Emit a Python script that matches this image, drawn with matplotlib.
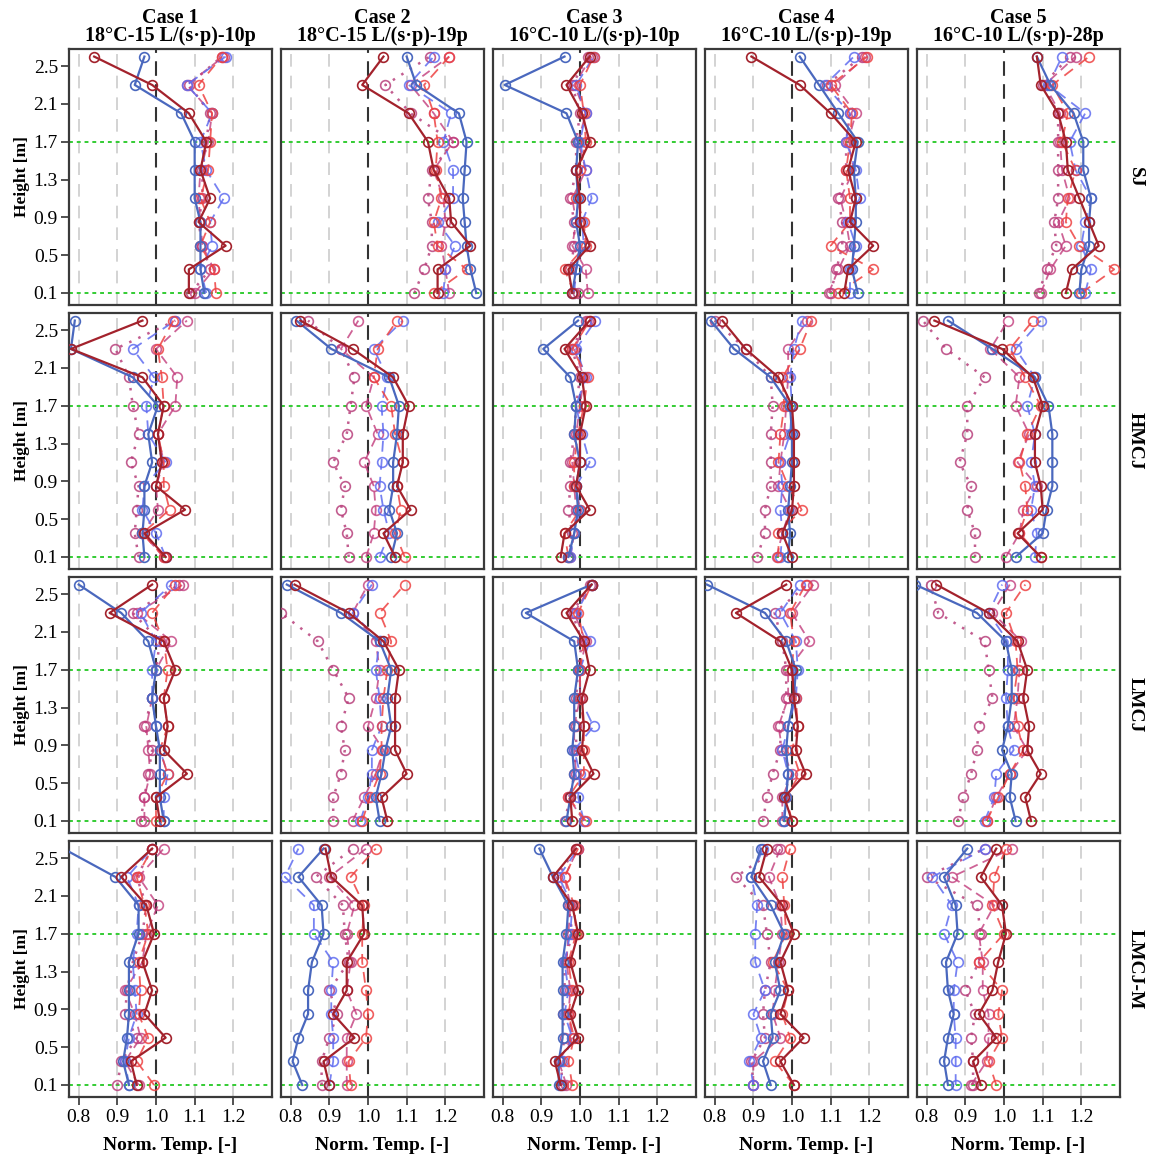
import matplotlib
matplotlib.use("Agg")
import matplotlib.pyplot as plt

plt.rcParams['font.family'] = ['Liberation Serif', 'DejaVu Serif']

# ==========================
# DATA (values listed bottom -> top, one list per case)
# ==========================
HEIGHTS = [0.1, 0.35, 0.6, 0.85, 1.1, 1.4, 1.7, 2.0, 2.3, 2.6]
CASES = ["Case 1", "Case 2", "Case 3", "Case 4", "Case 5"]
CASE_INFO = ["18°C-15 L/(s·p)-10p", "18°C-15 L/(s·p)-19p", "16°C-10 L/(s·p)-10p",
             "16°C-10 L/(s·p)-19p", "16°C-10 L/(s·p)-28p"]
ROWS = ["SJ", "HMCJ", "LMCJ", "LMCJ-M"]
YTICKS = [0.1, 0.5, 0.9, 1.3, 1.7, 2.1, 2.5]
XTICKS = [0.8, 0.9, 1.0, 1.1, 1.2]
REF_HEIGHTS = [0.1, 1.7]

# --- SJ ---
SJ_BLUE = [[1.125, 1.115, 1.115, 1.115, 1.10, 1.10, 1.10, 1.065, 0.945, 0.97],
           [1.28, 1.265, 1.255, 1.25, 1.245, 1.25, 1.255, 1.235, 1.125, 1.10],
           [0.98, 0.99, 1.0, 0.99, 0.995, 0.99, 0.995, 0.965, 0.805, 0.96],
           [1.17, 1.155, 1.16, 1.165, 1.165, 1.16, 1.17, 1.12, 1.07, 1.02],
           [1.195, 1.20, 1.22, 1.22, 1.225, 1.205, 1.205, 1.18, 1.12, 1.085]]
SJ_RED = [[1.085, 1.085, 1.18, 1.11, 1.14, 1.115, 1.13, 1.085, 0.99, 0.84],
          [1.18, 1.18, 1.265, 1.215, 1.21, 1.17, 1.155, 1.105, 0.985, 1.04],
          [0.98, 0.97, 1.025, 1.0, 1.0, 0.99, 1.025, 1.005, 0.965, 1.025],
          [1.135, 1.145, 1.21, 1.15, 1.165, 1.145, 1.165, 1.10, 1.02, 0.895],
          [1.16, 1.175, 1.245, 1.22, 1.195, 1.165, 1.16, 1.14, 1.095, 1.085]]
SJ_BLUE_D = [[1.13, 1.115, 1.145, 1.14, 1.175, 1.13, 1.115, 1.145, 1.08, 1.18],
             [1.195, 1.20, 1.225, 1.18, 1.22, 1.22, 1.195, 1.215, 1.105, 1.17],
             [0.985, 0.99, 1.01, 1.005, 1.03, 1.015, 1.0, 1.015, 0.99, 1.035],
             [1.15, 1.15, 1.165, 1.145, 1.175, 1.165, 1.14, 1.15, 1.085, 1.16],
             [1.21, 1.225, 1.20, 1.21, 1.225, 1.185, 1.17, 1.21, 1.115, 1.15]]
SJ_RED_D = [[1.155, 1.15, 1.115, 1.14, 1.115, 1.135, 1.14, 1.145, 1.11, 1.17],
            [1.17, 1.255, 1.18, 1.17, 1.19, 1.175, 1.18, 1.17, 1.145, 1.21],
            [0.985, 0.96, 1.015, 1.01, 0.99, 1.0, 1.015, 1.01, 1.0, 1.035],
            [1.12, 1.21, 1.10, 1.15, 1.15, 1.14, 1.15, 1.155, 1.10, 1.195],
            [1.20, 1.285, 1.195, 1.16, 1.165, 1.185, 1.15, 1.165, 1.125, 1.22]]
SJ_MAG_DD = [[1.10, 1.15, 1.12, 1.115, 1.11, 1.115, 1.135, 1.145, 1.08, 1.175],
             [1.21, 1.20, 1.19, 1.20, 1.195, 1.17, 1.22, 1.17, 1.11, 1.21],
             [1.02, 1.015, 0.98, 0.99, 0.98, 1.015, 0.995, 1.015, 0.985, 1.03],
             [1.095, 1.12, 1.15, 1.14, 1.125, 1.16, 1.145, 1.165, 1.11, 1.19],
             [1.095, 1.12, 1.16, 1.14, 1.17, 1.15, 1.145, 1.145, 1.105, 1.185]]
SJ_MAG_DOT = [[1.09, 1.14, 1.12, 1.11, 1.12, 1.12, 1.13, 1.14, 1.085, 1.17],
              [1.12, 1.145, 1.165, 1.165, 1.155, 1.165, 1.22, 1.11, 1.045, 1.16],
              [0.995, 0.975, 0.985, 0.985, 0.975, 0.99, 0.99, 1.0, 0.98, 1.02],
              [1.10, 1.115, 1.13, 1.13, 1.12, 1.14, 1.14, 1.15, 1.09, 1.18],
              [1.09, 1.11, 1.135, 1.13, 1.14, 1.14, 1.14, 1.14, 1.10, 1.17]]

# --- HMCJ ---
HMCJ_BLUE = [[0.97, 0.965, 0.97, 0.97, 0.99, 0.98, 1.005, 0.94, 0.78, 0.79],
             [1.06, 1.075, 1.055, 1.065, 1.065, 1.075, 1.08, 1.055, 0.905, 0.815],
             [0.97, 0.985, 0.995, 0.99, 1.0, 0.985, 0.99, 0.975, 0.905, 0.995],
             [0.99, 0.995, 0.99, 0.995, 1.0, 1.0, 0.995, 0.945, 0.85, 0.79],
             [1.03, 1.10, 1.11, 1.125, 1.125, 1.125, 1.115, 1.08, 0.97, 0.855]]
HMCJ_RED = [[1.025, 0.97, 1.075, 1.0, 1.015, 1.005, 1.02, 0.965, 0.78, 0.965],
            [1.07, 1.04, 1.11, 1.075, 1.09, 1.09, 1.105, 1.065, 0.96, 0.825],
            [0.95, 0.96, 1.025, 0.99, 1.0, 1.0, 1.015, 1.005, 0.96, 1.025],
            [1.0, 0.975, 1.0, 1.005, 1.005, 1.005, 1.0, 0.965, 0.88, 0.82],
            [1.095, 1.035, 1.10, 1.095, 1.08, 1.08, 1.10, 1.075, 0.995, 0.82]]
HMCJ_BLUE_D = [[1.025, 1.0, 0.965, 0.97, 1.025, 0.98, 0.975, 0.995, 0.94, 1.05],
               [1.03, 1.055, 1.04, 1.03, 1.035, 1.04, 1.035, 1.05, 1.015, 1.09],
               [0.975, 0.985, 1.0, 0.99, 1.025, 1.005, 0.99, 1.015, 0.99, 1.04],
               [0.97, 0.975, 0.97, 0.975, 0.97, 0.995, 1.0, 0.995, 1.005, 1.025],
               [1.08, 1.085, 1.07, 1.08, 1.07, 1.08, 1.06, 1.08, 1.03, 1.095]]
HMCJ_RED_D = [[1.02, 0.965, 1.035, 1.02, 1.02, 1.005, 1.02, 1.015, 1.005, 1.045],
              [1.095, 1.07, 1.085, 1.075, 1.09, 1.07, 1.06, 1.015, 1.025, 1.075],
              [0.97, 0.96, 1.0, 0.985, 0.985, 0.995, 1.01, 1.02, 0.98, 1.025],
              [0.965, 0.965, 1.025, 0.99, 0.965, 0.97, 0.98, 0.975, 1.02, 1.05],
              [1.095, 1.04, 1.06, 1.055, 1.04, 1.06, 1.095, 1.055, 1.015, 1.075]]
HMCJ_MAG_DD = [[1.02, 0.965, 1.005, 1.0, 1.02, 1.005, 1.05, 1.055, 1.0, 1.08],
               [0.995, 1.015, 1.02, 1.015, 0.99, 1.025, 0.995, 1.015, 0.93, 0.975],
               [0.975, 0.985, 0.99, 0.985, 0.98, 0.99, 1.0, 1.01, 0.985, 1.02],
               [0.96, 0.975, 0.995, 0.965, 0.97, 0.98, 0.985, 0.99, 0.99, 1.04],
               [1.005, 1.04, 1.05, 1.085, 1.035, 1.065, 1.03, 1.04, 0.965, 1.01]]
HMCJ_MAG_DOT = [[0.955, 0.945, 0.95, 0.955, 0.935, 0.955, 0.94, 0.93, 0.895, 1.05],
                [0.95, 0.945, 0.93, 0.94, 0.91, 0.945, 0.955, 0.965, 0.93, 0.845],
                [0.97, 0.98, 0.97, 0.975, 0.975, 0.985, 0.99, 1.0, 0.98, 1.015],
                [0.91, 0.93, 0.93, 0.945, 0.945, 0.945, 0.95, 0.945, 0.88, 0.80],
                [0.925, 0.925, 0.905, 0.915, 0.885, 0.905, 0.905, 0.95, 0.85, 0.79]]

# --- LMCJ ---
LMCJ_BLUE = [[1.02, 1.01, 1.01, 1.01, 1.00, 0.99, 1.00, 0.98, 0.91, 0.80],
             [1.03, 1.02, 1.035, 1.045, 1.06, 1.05, 1.06, 1.03, 0.93, 0.79],
             [0.965, 0.975, 0.985, 0.98, 0.985, 0.985, 0.995, 0.985, 0.86, 1.03],
             [0.98, 0.985, 0.99, 0.985, 0.99, 1.005, 1.01, 0.985, 0.93, 0.78],
             [1.03, 1.015, 1.02, 0.995, 1.01, 1.02, 1.02, 1.005, 0.93, 0.77]]
LMCJ_RED = [[1.01, 1.00, 1.08, 1.02, 1.03, 1.02, 1.05, 1.02, 0.88, 0.99],
            [1.05, 1.035, 1.10, 1.07, 1.07, 1.07, 1.08, 1.04, 0.95, 0.81],
            [0.98, 0.975, 1.035, 1.005, 1.01, 1.005, 1.025, 1.01, 0.965, 1.03],
            [1.0, 0.98, 1.035, 1.01, 1.015, 1.005, 1.0, 0.97, 0.855, 0.985],
            [1.07, 1.055, 1.095, 1.06, 1.065, 1.05, 1.06, 1.035, 0.96, 0.825]]
LMCJ_BLUE_D = [[1.02, 1.02, 1.03, 1.01, 1.00, 0.99, 0.99, 1.00, 0.96, 1.04],
               [0.98, 1.0, 1.01, 1.01, 1.035, 1.03, 1.02, 1.03, 0.96, 1.01],
               [1.01, 0.995, 1.0, 0.985, 1.035, 1.0, 1.0, 1.025, 0.99, 1.03],
               [0.98, 0.98, 0.99, 0.975, 0.99, 1.01, 1.015, 1.01, 0.97, 1.02],
               [0.95, 0.975, 0.98, 1.025, 1.01, 1.005, 1.01, 1.01, 0.96, 0.995]]
LMCJ_RED_D = [[1.00, 1.00, 1.03, 1.01, 1.03, 1.02, 1.03, 1.02, 0.99, 1.05],
              [0.985, 1.005, 1.03, 1.035, 1.035, 1.04, 1.05, 1.06, 1.03, 1.095],
              [1.015, 0.97, 1.01, 1.01, 1.01, 1.0, 1.0, 1.01, 0.995, 1.03],
              [1.0, 0.985, 1.02, 1.0, 1.015, 1.01, 1.0, 1.005, 0.995, 1.035],
              [0.955, 0.985, 1.015, 1.05, 1.035, 1.025, 1.035, 1.03, 1.005, 1.055]]
LMCJ_MAG_DD = [[0.97, 0.97, 0.985, 0.98, 0.975, 0.99, 1.00, 1.04, 0.95, 1.07],
               [0.96, 0.99, 1.02, 1.04, 1.0, 1.02, 1.03, 1.02, 0.96, 1.0],
               [1.01, 0.97, 0.99, 0.985, 0.985, 1.0, 1.0, 1.015, 0.985, 1.03],
               [0.975, 0.975, 1.0, 0.975, 0.965, 0.99, 0.99, 1.045, 1.0, 1.055],
               [0.955, 0.98, 1.015, 1.06, 1.025, 1.035, 1.04, 1.045, 0.97, 1.015]]
LMCJ_MAG_DOT = [[0.96, 0.97, 0.98, 0.99, 0.97, 0.99, 1.0, 1.01, 0.94, 1.06],
                [0.91, 0.91, 0.93, 0.94, 0.93, 0.95, 0.91, 0.87, 0.775, 0.76],
                [0.96, 0.975, 0.985, 0.99, 0.99, 0.99, 0.995, 1.005, 0.98, 1.025],
                [0.925, 0.935, 0.95, 0.97, 0.97, 0.985, 0.985, 0.975, 0.955, 1.04],
                [0.88, 0.895, 0.915, 0.93, 0.935, 0.97, 0.96, 0.95, 0.83, 0.81]]

# --- LMCJ-M ---
LMCJM_BLUE = [[0.93, 0.915, 0.925, 0.93, 0.93, 0.93, 0.955, 0.955, 0.895, 0.76],
              [0.83, 0.805, 0.82, 0.845, 0.845, 0.855, 0.885, 0.88, 0.82, 0.885],
              [0.945, 0.945, 0.955, 0.955, 0.955, 0.955, 0.965, 0.97, 0.93, 0.895],
              [0.945, 0.925, 0.95, 0.945, 0.97, 0.955, 0.98, 0.945, 0.895, 0.92],
              [0.855, 0.845, 0.855, 0.87, 0.855, 0.85, 0.88, 0.875, 0.845, 0.905]]
LMCJM_RED = [[0.95, 0.935, 1.025, 0.97, 0.99, 0.965, 0.995, 0.975, 0.91, 0.99],
             [0.90, 0.885, 0.965, 0.91, 0.945, 0.945, 0.99, 0.985, 0.905, 0.89],
             [0.95, 0.935, 0.995, 0.975, 0.995, 0.975, 0.995, 0.98, 0.93, 0.99],
             [1.005, 0.97, 1.03, 0.97, 0.99, 0.97, 1.005, 0.975, 0.915, 0.935],
             [0.94, 0.92, 0.98, 0.935, 0.97, 0.985, 1.005, 0.995, 0.94, 0.98]]
LMCJM_BLUE_D = [[0.93, 0.92, 0.93, 0.95, 0.945, 0.94, 0.95, 0.955, 0.925, 0.99],
                [0.90, 0.91, 0.91, 0.905, 0.905, 0.91, 0.86, 0.86, 0.785, 0.82],
                [0.95, 0.955, 0.98, 0.96, 0.97, 0.96, 0.975, 0.98, 0.945, 0.995],
                [0.9, 0.89, 0.92, 0.9, 0.93, 0.905, 0.905, 0.91, 0.895, 0.925],
                [0.875, 0.875, 0.875, 0.87, 0.87, 0.88, 0.845, 0.865, 0.815, 0.95]]
LMCJM_RED_D = [[0.995, 0.95, 0.98, 0.955, 0.96, 0.955, 0.98, 0.97, 0.95, 0.99],
               [0.955, 0.95, 0.995, 1.0, 0.995, 0.985, 0.985, 0.99, 0.955, 1.02],
               [0.98, 0.97, 0.985, 0.97, 0.98, 0.97, 0.99, 0.985, 0.96, 0.995],
               [1.005, 0.955, 0.995, 0.975, 0.99, 0.95, 0.985, 0.98, 0.975, 0.995],
               [0.98, 0.96, 0.995, 0.985, 0.995, 0.935, 1.0, 0.97, 0.975, 1.005]]
LMCJM_MAG_DD = [[0.955, 0.92, 0.96, 0.945, 0.92, 0.965, 0.975, 1.005, 0.955, 1.02],
                [0.945, 0.945, 0.945, 0.97, 0.945, 0.955, 0.945, 0.965, 0.90, 0.995],
                [0.965, 0.945, 0.98, 0.97, 0.975, 0.965, 0.97, 0.975, 0.96, 0.995],
                [0.9, 0.9, 0.97, 0.95, 0.955, 0.965, 0.975, 0.97, 0.94, 0.97],
                [0.915, 0.955, 0.96, 0.96, 0.945, 0.945, 0.935, 0.975, 0.865, 1.02]]
LMCJM_MAG_DOT = [[0.90, 0.91, 0.95, 0.92, 0.925, 0.94, 0.965, 0.975, 0.95, 0.99],
                 [0.88, 0.88, 0.90, 0.92, 0.90, 0.95, 0.94, 0.935, 0.865, 0.96],
                 [0.955, 0.95, 0.96, 0.955, 0.96, 0.96, 0.98, 0.97, 0.94, 0.99],
                 [0.9, 0.895, 0.93, 0.925, 0.93, 0.945, 0.935, 0.925, 0.855, 0.96],
                 [0.92, 0.92, 0.915, 0.925, 0.90, 0.935, 0.94, 0.93, 0.80, 0.95]]

ROW_DATA = [
    [SJ_MAG_DOT, SJ_MAG_DD, SJ_BLUE_D, SJ_RED_D, SJ_BLUE, SJ_RED],
    [HMCJ_MAG_DOT, HMCJ_MAG_DD, HMCJ_BLUE_D, HMCJ_RED_D, HMCJ_BLUE, HMCJ_RED],
    [LMCJ_MAG_DOT, LMCJ_MAG_DD, LMCJ_BLUE_D, LMCJ_RED_D, LMCJ_BLUE, LMCJ_RED],
    [LMCJM_MAG_DOT, LMCJM_MAG_DD, LMCJM_BLUE_D, LMCJM_RED_D, LMCJM_BLUE, LMCJM_RED],
]

# line styles, same order as ROW_DATA entries
STYLES = [
    dict(color="#b8407c", ls=(0, (1, 3)), lw=1.8, alpha=0.85),
    dict(color="#c23c7c", ls=(0, (5, 3)), lw=1.3, alpha=0.8),
    dict(color="#5f6cf0", ls=(0, (6, 4)), lw=1.3, alpha=0.85),
    dict(color="#ee4242", ls=(0, (6, 4)), lw=1.3, alpha=0.85),
    dict(color="#4a68be", ls="-", lw=1.6, alpha=1.0),
    dict(color="#a3222c", ls="-", lw=1.6, alpha=1.0),
]

# ==========================
# LAYOUT (pixels)
# ==========================
W, H = 1149, 1159
LEFT0, TOP0 = 69, 49
PW, PH = 203, 256
DX, DY = 212, 264

fig = plt.figure(figsize=(W / 100, H / 100), dpi=100)

for r, series_list in enumerate(ROW_DATA):
    for c in range(5):
        left = LEFT0 + DX * c
        top = TOP0 + DY * r
        ax = fig.add_axes([left / W, 1 - (top + PH) / H, PW / W, PH / H])
        ax.set_xlim(0.775, 1.30)
        ax.set_ylim(-0.027, 2.68)

        # grid
        for xv in XTICKS:
            if xv == 1.0:
                ax.axvline(xv, color="#333333", lw=1.5, ls=(0, (7, 4)), zorder=1)
            else:
                ax.axvline(xv, color="#d0d0d0", lw=1.3, ls=(0, (7, 5)), zorder=1)
        for hv in REF_HEIGHTS:
            ax.axhline(hv, color="#33cc33", lw=1.4, ls=(0, (2, 2)), zorder=1)

        for vals, st in zip(series_list, STYLES):
            ax.plot(vals[c], HEIGHTS, color=st["color"], ls=st["ls"], lw=st["lw"],
                    alpha=st["alpha"], marker="o", ms=7, mfc="none",
                    mec=st["color"], mew=1.2, zorder=3)

        if c == 0:
            ax.set_yticks(YTICKS)
            ax.set_yticklabels([f"{v:.1f}" for v in YTICKS])
            ax.tick_params(axis="y", direction="out", length=6, width=1.2,
                           labelsize=14, pad=2, color="#333333")
        else:
            ax.set_yticks([])
        if r == 3:
            ax.set_xticks(XTICKS)
            ax.set_xticklabels([f"{v:.1f}" for v in XTICKS])
            ax.tick_params(axis="x", direction="out", length=6, width=1.2,
                           labelsize=14, pad=3, color="#333333")
        else:
            ax.set_xticks([])
        for sp in ax.spines.values():
            sp.set_color("#3a3a3a")
            sp.set_linewidth(1.6)

        if c == 0:
            fig.text(22 / W, 1 - (top + PH / 2) / H, "Height [m]", rotation=90,
                     ha="center", va="center", fontsize=12.5, fontweight="bold")
        if c == 4:
            fig.text(1135 / W, 1 - (top + PH / 2) / H, ROWS[r], rotation=-90,
                     ha="center", va="center", fontsize=14, fontweight="bold")
        if r == 0:
            cx = (left + PW / 2) / W
            fig.text(cx, 1 - 18 / H, CASES[c], ha="center", va="center",
                     fontsize=14.5, fontweight="bold")
            fig.text(cx, 1 - 36 / H, CASE_INFO[c], ha="center", va="center",
                     fontsize=14.5, fontweight="bold")
        if r == 3:
            fig.text((left + PW / 2) / W, 1 - 1145 / H, "Norm. Temp. [-]",
                     ha="center", va="center", fontsize=14, fontweight="bold")

fig.savefig("out.png", dpi=100)
